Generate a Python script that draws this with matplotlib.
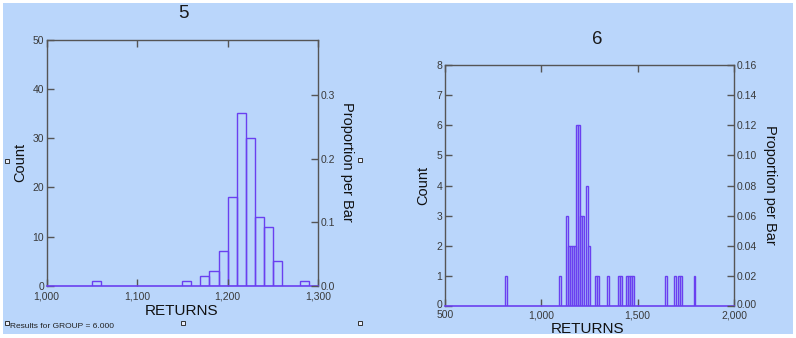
import matplotlib
matplotlib.use("Agg")
import matplotlib.pyplot as plt
from matplotlib.patches import Rectangle
from matplotlib.ticker import FuncFormatter
from matplotlib.transforms import ScaledTranslation

plt.rcParams['font.family'] = ['Liberation Sans', 'DejaVu Sans']

# ---- data: panel "5" (GROUP 5) ----
bins5 = [1050, 1150, 1170, 1180, 1190, 1200, 1210, 1220, 1230, 1240, 1250, 1280]
counts5 = [1, 1, 2, 3, 7, 18, 35, 30, 14, 12, 5, 1]
width5 = 10

# ---- data: panel "6" (GROUP 6) ----
bins6 = [810, 1090, 1130, 1140, 1150, 1160, 1170, 1180, 1190, 1200, 1210, 1230, 1240,
         1280, 1290, 1340, 1400, 1410, 1440, 1450, 1460, 1470, 1640, 1690, 1710, 1720, 1790]
counts6 = [1, 1, 3, 2, 2, 2, 2, 6, 6, 3, 3, 4, 2,
           1, 1, 1, 1, 1, 1, 1, 1, 1, 1, 1, 1, 1, 1]
width6 = 10

xticks5 = [1000, 1100, 1200, 1300]
yticks5 = [0, 10, 20, 30, 40, 50]
pticks5 = [0.0, 0.1, 0.2, 0.3]
xticks6 = [500, 1000, 1500, 2000]
yticks6 = list(range(0, 9))
pticks6 = [0.00, 0.02, 0.04, 0.06, 0.08, 0.10, 0.12, 0.14, 0.16]

BG = '#bad6fb'
PURPLE = '#6a40f0'
SPINE = '#555555'
TICKLBL = '#3a3a3a'

W, H = 796, 338
fig = plt.figure(figsize=(W / 100, H / 100), dpi=100)
fig.patch.set_facecolor('white')
fig.add_artist(Rectangle((3 / W, 4 / H), 790 / W, 331 / H, transform=fig.transFigure,
                         facecolor=BG, edgecolor='none', zorder=-10))


def px_axes(l, t, r, b):
    return fig.add_axes([l / W, 1 - b / H, (r - l) / W, (b - t) / H])


def style(ax, ax2, xticks, yticks, pticks, xlim, ylim, plim, pfmt, xpad, title, title_xy,
          xlab_xy, ylab_xy, plab_xy):
    ax.set_facecolor('none')
    ax.set_xlim(*xlim)
    ax.set_ylim(*ylim)
    ax.set_xticks(xticks)
    ax.set_yticks(yticks)
    ax.xaxis.set_major_formatter(FuncFormatter(lambda v, p: f'{v:,.0f}'))
    ax.tick_params(axis='both', direction='in', length=5, width=1, color=SPINE,
                   labelsize=7.5, labelcolor=TICKLBL, pad=2)
    ax.tick_params(axis='x', top=True, pad=xpad)
    for s in ['left', 'right', 'top']:
        ax.spines[s].set_color(SPINE)
        ax.spines[s].set_linewidth(1.0)
    ax.spines['bottom'].set_color(PURPLE)
    ax.spines['bottom'].set_linewidth(1.2)
    ax2.set_ylim(*plim)
    ax2.set_yticks(pticks)
    ax2.yaxis.set_major_formatter(FuncFormatter(lambda v, p: pfmt.format(v)))
    ax2.tick_params(axis='y', direction='in', length=5, width=1, color=SPINE,
                    labelsize=7.5, labelcolor=TICKLBL, pad=2)
    for s in ax2.spines.values():
        s.set_visible(False)
    fig.text(title_xy[0] / W, 1 - title_xy[1] / H, title, fontsize=13.5,
             ha='center', va='center', color='#1a1a1a')
    fig.text(xlab_xy[0] / W, 1 - xlab_xy[1] / H, 'RETURNS', fontsize=11,
             ha='center', va='center', color='#111111')
    fig.text(ylab_xy[0] / W, 1 - ylab_xy[1] / H, 'Count', fontsize=10.5,
             ha='center', va='center', rotation=90, color='#111111')
    fig.text(plab_xy[0] / W, 1 - plab_xy[1] / H, 'Proportion per Bar', fontsize=10.5,
             ha='center', va='center', rotation=-90, color='#111111')


# ---- left panel ----
ax5 = px_axes(46.7, 39.5, 318, 286)
ax5.bar(bins5, counts5, width=width5, align='edge', fill=False,
        edgecolor=PURPLE, linewidth=1.0)
ax5b = ax5.twinx()
total5 = sum(counts5)
style(ax5, ax5b, xticks5, yticks5, pticks5, (1000, 1300), (0, 50), (0, 50 / total5),
      '{:.1f}', 4.0, '5', (183, 14), (182, 311), (20.5, 162), (347, 162))

# ---- right panel ----
ax6 = px_axes(445, 65, 734, 306)
ax6.bar(bins6, counts6, width=width6, align='edge', fill=False,
        edgecolor=PURPLE, linewidth=1.0)
ax6b = ax6.twinx()
total6 = sum(counts6)
style(ax6, ax6b, xticks6, yticks6, pticks6, (500, 2000), (0, 8), (0, 8 / total6),
      '{:.2f}', 3.0, '6', (597, 40), (588, 329), (423, 185), (770, 185))

# nudge the bottom-most y labels of the right panel up a little (as in the reference)
fig.canvas.draw()
shift = ScaledTranslation(0, 2.5 / 100, fig.dpi_scale_trans)
for a in (ax6, ax6b):
    lbls = a.yaxis.get_majorticklabels()
    lbls[0].set_transform(lbls[0].get_transform() + shift)

# ---- footer text and handles ----
fig.text(10 / W, 1 - 326 / H, 'Results for GROUP = 6.000', fontsize=6,
         ha='left', va='center', color='#222222')
ov = fig.add_axes([0, 0, 1, 1], facecolor='none')
ov.set_xlim(0, W)
ov.set_ylim(H, 0)
ov.axis('off')
hx = [7, 360, 7, 183, 360]
hy = [161, 160, 323, 323, 323]
ov.plot(hx, hy, linestyle='none', marker='s', markersize=2.6,
        markerfacecolor='#e8eefc', markeredgecolor='#333333', markeredgewidth=0.7)

fig.savefig('out.png', dpi=100, facecolor=fig.get_facecolor())
